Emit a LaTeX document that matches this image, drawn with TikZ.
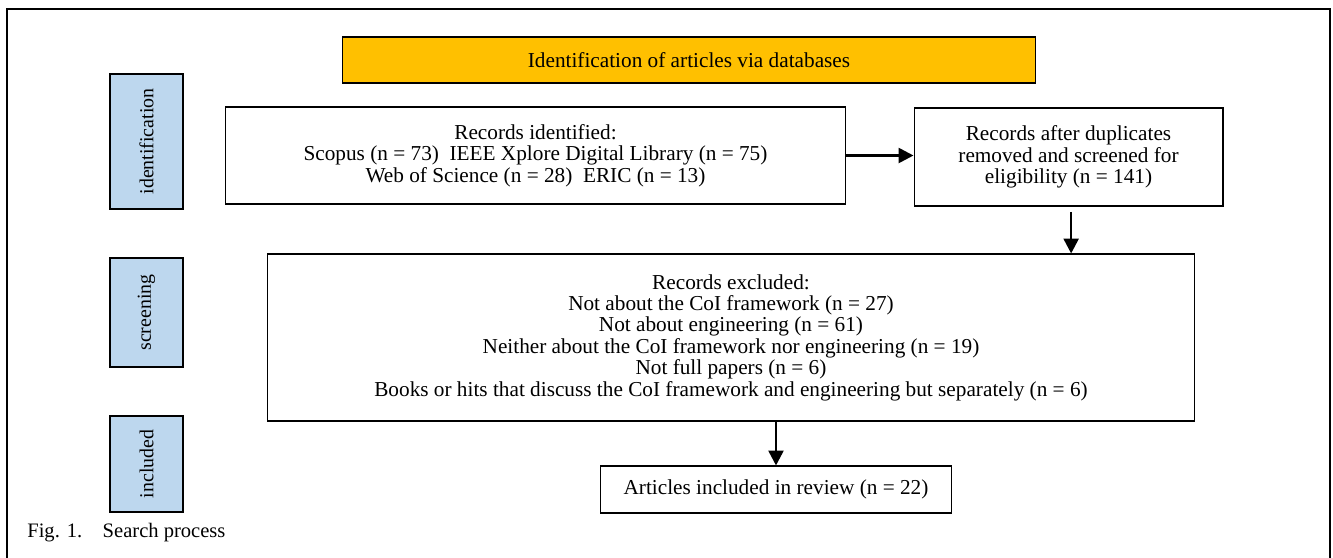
\documentclass[tikz,border=0pt]{standalone}
\usepackage{fontspec}
\setmainfont{Liberation Serif}
\usetikzlibrary{arrows.meta}
\definecolor{dbgold}{HTML}{FFC000}
\definecolor{phaseblue}{HTML}{BDD7EE}

\begin{document}
\begin{tikzpicture}[x=0.02cm,y=-0.02cm,
		box/.style={draw,line width=0.6pt,align=center,inner sep=0pt,font=\fontsize{12.1}{12.2}\selectfont},
		phase/.style={box,fill=phaseblue,minimum width=1.46cm,font=\fontsize{11.3}{12}\selectfont},
		flow/.style={line width=1.5pt,-{Triangle[length=8.5pt,width=8.5pt]}}]
		\useasboundingbox (0,0) rectangle (1333,558);
		% outer frame, open at the bottom
		\draw[line width=0.7pt] (7,558) -- (7,9) -- (1330,9) -- (1330,558);
		
		\node[box,fill=dbgold,minimum width=13.88cm,minimum height=0.92cm] (db) at (689,60) {Identification of articles via databases};
		
		% phases
		\node[phase,minimum height=2.7cm] (idnt) at (146.5,141.5) {\rotatebox{90}{identification}};
		\node[phase,minimum height=2.18cm] (scrn) at (146.5,312.5) {\rotatebox{90}{screening}};
		\node[phase,minimum height=1.92cm] (incl) at (146.5,464) {\rotatebox{90}{included}};
		
		% records
		\node[box,minimum width=12.42cm,minimum height=1.94cm] (recid) at (535.5,155.5) {Records identified:\\ Scopus (n = 73)\ \ IEEE Xplore Digital Library (n = 75)\\ Web of Science (n = 28)\ \ ERIC (n = 13)};
		\node[box,minimum width=6.18cm,minimum height=1.96cm] (dup) at (1068.5,157) {Records after duplicates\\ removed and screened for\\ eligibility (n = 141)};
		\node[box,minimum width=18.56cm,minimum height=3.34cm] (excl) at (731,337.5) {Records excluded:\\ Not about the CoI framework (n = 27)\\ Not about engineering (n = 61)\\ Neither about the CoI framework nor engineering (n = 19)\\ Not full papers (n = 6)\\ Books or hits that discuss the CoI framework and engineering but separately (n = 6)};
		\node[box,minimum width=7.04cm,minimum height=0.94cm] (incrv) at (776,489.5) {Articles included in review (n = 22)};
		
		\draw[flow] (recid.east) -- (recid.east -| dup.west);
		\draw[flow] ([xshift=1.5pt,yshift=-3pt]dup.south) -- ([xshift=1.5pt]dup.south |- excl.north);
		\draw[flow] (incrv.north |- excl.south) -- (incrv.north);
		
		\node[anchor=west,inner sep=0pt,font=\fontsize{11.7}{12}\selectfont] (cap) at (27,533) {Fig. 1.\quad Search process};
	\end{tikzpicture}
\end{document}
